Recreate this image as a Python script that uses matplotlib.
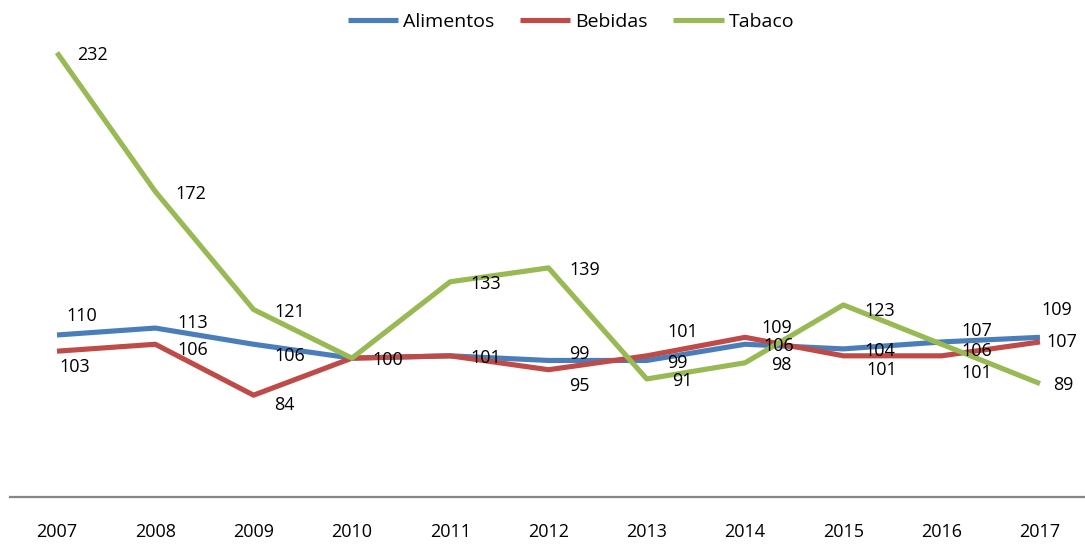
import matplotlib
matplotlib.use("Agg")
import matplotlib.pyplot as plt

# data
years = ["2007", "2008", "2009", "2010", "2011", "2012", "2013", "2014", "2015", "2016", "2017"]
alimentos = [110, 113, 106, 100, 101, 99, 99, 106, 104, 107, 109]
bebidas = [103, 106, 84, 100, 101, 95, 101, 109, 101, 101, 107]
tabaco = [232, 172, 121, 100, 133, 139, 91, 98, 123, 106, 89]

series = [
    ("Alimentos", alimentos, "#4A7EBB"),
    ("Bebidas", bebidas, "#BE4B48"),
    ("Tabaco", tabaco, "#98B954"),
]

# label offsets in pixels (dx, dy), default is to the right of the point
label_shift = {
    ("Alimentos", 0): (25, 19), ("Alimentos", 1): (37, 5), ("Alimentos", 2): (36, -12),
    ("Alimentos", 5): (31, 6), ("Alimentos", 6): (31, -3), ("Alimentos", 7): (34, -2),
    ("Alimentos", 9): (35, 11), ("Alimentos", 10): (17, 27),
    ("Bebidas", 0): (18, -16), ("Bebidas", 1): (37, -6), ("Bebidas", 2): (31, -10),
    ("Bebidas", 5): (31, -16), ("Bebidas", 6): (36, 24), ("Bebidas", 7): (32, 9),
    ("Bebidas", 8): (38, -14), ("Bebidas", 9): (35, -17), ("Bebidas", 10): (22, 0),
    ("Tabaco", 8): (36, -6), ("Tabaco", 9): (35, -7), ("Tabaco", 10): (23, -1),
}

plt.rcParams['font.family'] = ['Open Sans', 'DejaVu Sans']

fig = plt.figure(figsize=(10.85, 5.45), dpi=100)
ax = fig.add_axes([10 / 1085, 48 / 545, 1075 / 1085, 486 / 545])

x = list(range(len(years)))
done = set()
for name, vals, col in series:
    ax.plot(x, vals, color=col, lw=3.7, label=name, solid_capstyle="butt")
for name, vals, col in series:
    for i, v in enumerate(vals):
        dx, dy = label_shift.get((name, i), (36, -2))
        key = (i, v, dx, dy)
        if key in done:
            continue
        done.add(key)
        ax.annotate(str(v), (i, v), xytext=(dx, dy), textcoords="offset pixels",
                    ha="center", va="center", fontsize=13, color="#000000")

ax.set_xlim(-0.478, 10.458)
ax.set_ylim(40, 250)
ax.set_xticks(x)
ax.set_xticklabels(years, fontsize=13)
ax.tick_params(axis="x", length=0, pad=19)
ax.set_yticks([])
for s in ["top", "left", "right"]:
    ax.spines[s].set_visible(False)
ax.spines["bottom"].set_color("#868686")
ax.spines["bottom"].set_linewidth(1.6)

fig.legend(loc="center", bbox_to_anchor=(571 / 1085, 1 - 22 / 545), ncol=3, frameon=False,
           fontsize=14, handlelength=2.6, columnspacing=1.3, handletextpad=0.25)

fig.savefig("out.png", dpi=100)
